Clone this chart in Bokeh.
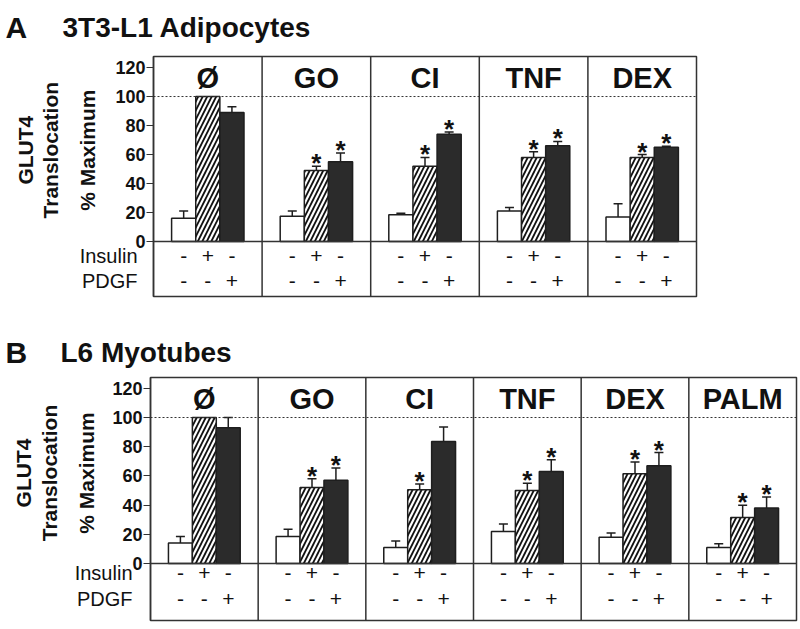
import math
from bokeh.plotting import figure
from bokeh.models import ColumnDataSource, Range1d, FixedTicker, Span, Whisker, TeeHead
from bokeh.core.properties import value
from bokeh.embed import file_html
from bokeh.resources import INLINE

# ---------------- data ----------------
A_title = "3T3-L1 Adipocytes"
A_groups = ["Ø", "GO", "CI", "TNF", "DEX"]
A_basal = [16, 17.5, 18.5, 21, 17]
A_basal_err = [5, 3.5, 1, 2.5, 9]
A_ins = [100, 49, 52, 58, 58]
A_ins_err = [0, 3, 6, 4, 2]
A_pdgf = [89, 55, 74, 66, 65]
A_pdgf_err = [4, 6, 1.5, 3, 0.7]
A_sig_ins = [False, True, True, True, True]
A_sig_pdgf = [False, True, True, True, True]

B_title = "L6 Myotubes"
B_groups = ["Ø", "GO", "CI", "TNF", "DEX", "PALM"]
B_basal = [14, 18.5, 11, 22, 18, 11]
B_basal_err = [4.5, 5, 4.5, 5, 3, 2.5]
B_ins = [100, 52, 50.5, 50, 61.5, 31.5]
B_ins_err = [0, 6, 4, 5, 8, 8.5]
B_pdgf = [93, 57, 83.5, 63, 67, 38]
B_pdgf_err = [7, 8.5, 10, 8, 9, 7.5]
B_sig_ins = [False, True, True, True, True, True]
B_sig_pdgf = [False, True, False, True, True, True]

insulin_signs = ["-", "+", "-"]
pdgf_signs = ["-", "-", "+"]
y_ticks = [0, 20, 40, 60, 80, 100, 120]
row_labels = ["Insulin", "PDGF"]
y_label_lines = ["GLUT4", "Translocation", "% Maximum"]

FONT = value("Liberation Sans")
PW = 4.5          # width of one sub-panel in data units
OFFS = [1.25, 2.25, 3.25]
DARK = "#2b2b2b"
LINE = "#1e1e1e"
TXT = "#111111"


def outside_text(p, x, y, text, xo, yo, size, bold=False, align="left",
                 baseline="alphabetic", angle=0.0):
    p.text(x=[x], y=[y], text=[text], x_offset=xo, y_offset=yo, angle=angle,
           text_font=FONT, text_font_style="bold" if bold else "normal",
           text_font_size=size, text_align=align, text_baseline=baseline,
           text_color=TXT, level="overlay")


def make_panel(letter, title, groups, series, sig_ins, sig_pdgf,
               width, height, bl, bt, br, bb, ystart, yend,
               title_yo, title_xo, ylab_offsets, ylab_y, row_y, row_xo):
    n = len(groups)
    p = figure(width=width, height=height, output_backend="svg",
               toolbar_location=None, x_axis_location=None,
               x_range=Range1d(0, PW * n), y_range=Range1d(ystart, yend),
               min_border_left=bl, min_border_top=bt,
               min_border_right=br, min_border_bottom=bb)
    p.title = None
    p.grid.visible = False
    p.outline_line_color = "#333333"
    p.outline_line_width = 1.5
    p.background_fill_color = "white"

    ax = p.yaxis[0]
    ax.ticker = FixedTicker(ticks=y_ticks)
    ax.major_label_text_font = "Liberation Sans"
    ax.major_label_text_font_style = "bold"
    ax.major_label_text_font_size = "18px"
    ax.major_label_text_color = TXT
    ax.major_tick_out = 7
    ax.major_tick_in = 0
    ax.minor_tick_out = 0
    ax.minor_tick_in = 0
    ax.major_label_standoff = 1
    ax.axis_line_color = "#333333"
    ax.axis_line_width = 1.5
    ax.major_tick_line_color = "#333333"
    ax.major_tick_line_width = 1.2

    # dividers, zero line and 100 % line
    for i in range(1, n):
        p.add_layout(Span(location=PW * i, dimension="height",
                          line_color="#333333", line_width=1.5))
    p.add_layout(Span(location=100, dimension="width", line_color="#333333",
                      line_width=1, line_dash="2 2"))
    p.add_layout(Span(location=0, dimension="width", line_color="#333333",
                      line_width=1.5))

    styles = [
        dict(fill_color="white"),
        dict(fill_color="white", hatch_pattern="/", hatch_color="#111111",
             hatch_scale=9, hatch_weight=1.8),
        dict(fill_color=DARK),
    ]
    sigs = [None, sig_ins, sig_pdgf]
    for k, (vals, errs) in enumerate(series):
        xs = [PW * i + OFFS[k] for i in range(n)]
        src = ColumnDataSource(dict(x=xs, top=vals))
        p.vbar(x="x", top="top", bottom=0, width=1, source=src,
               line_color=LINE, line_width=1.5, **styles[k])
        ex = [x for x, e in zip(xs, errs) if e > 0]
        ev = [v for v, e in zip(vals, errs) if e > 0]
        eu = [v + e for v, e in zip(vals, errs) if e > 0]
        wsrc = ColumnDataSource(dict(x=ex, lower=ev, upper=eu))
        p.add_layout(Whisker(source=wsrc, base="x", lower="lower", upper="upper",
                             dimension="height", line_color=LINE, line_width=1.5,
                             upper_head=TeeHead(size=9, line_color=LINE,
                                                line_width=1.5),
                             lower_head=None))
        if sigs[k] is not None:
            sx = [x for x, s in zip(xs, sigs[k]) if s]
            sy = [v + e for v, e, s in zip(vals, errs, sigs[k]) if s]
            p.text(x=sx, y=sy, text=["*"] * len(sx), y_offset=-3,
                   text_font=FONT, text_font_style="bold",
                   text_font_size="26px", text_align="center",
                   text_baseline="alphabetic", text_color=TXT)

    # group names
    gx = [PW * i + PW / 2 for i in range(n)]
    p.text(x=gx, y=[113] * n, text=groups, text_font=FONT,
           text_font_style="bold", text_font_size="29px", text_align="center",
           text_baseline="middle", text_color=TXT)

    # +/- rows
    sx, sy, st = [], [], []
    for i in range(n):
        for k in range(3):
            sx += [PW * i + OFFS[k], PW * i + OFFS[k]]
            sy += [row_y[0], row_y[1]]
            st += [insulin_signs[k], pdgf_signs[k]]
    p.text(x=sx, y=sy, text=st, text_font=FONT, text_font_size="21px",
           text_align="center", text_baseline="middle", text_color=TXT)

    # texts outside the frame (anchored on the frame edge, shifted in pixels)
    for lab, ry in zip(row_labels, row_y):
        outside_text(p, 0, ry, lab, row_xo, 0, "20px", align="right",
                     baseline="middle")
    for lab, off in zip(y_label_lines, ylab_offsets):
        outside_text(p, 0, ylab_y, lab, off, 0, "21px", bold=True,
                     align="center", baseline="middle", angle=math.pi / 2)
    outside_text(p, 0, yend, letter, title_xo[0], title_yo, "30px", bold=True)
    outside_text(p, 0, yend, title, title_xo[1], title_yo, "28px", bold=True)
    return p


pA = make_panel("A", A_title, A_groups,
                [(A_basal, A_basal_err), (A_ins, A_ins_err), (A_pdgf, A_pdgf_err)],
                A_sig_ins, A_sig_pdgf,
                width=800, height=300, bl=153, bt=56, br=104, bb=4,
                ystart=-37.9, yend=127.6, title_yo=-29, title_xo=(-148, -91),
                ylab_offsets=[-128, -103, -66], ylab_y=63,
                row_y=[-9.7, -26.9], row_xo=-16)

pB = make_panel("B", B_title, B_groups,
                [(B_basal, B_basal_err), (B_ins, B_ins_err), (B_pdgf, B_pdgf_err)],
                B_sig_ins, B_sig_pdgf,
                width=800, height=328, bl=150, bt=77, br=4, bb=8,
                ystart=-39.0, yend=127.4, title_yo=-25, title_xo=(-145, -90),
                ylab_offsets=[-127, -101, -64], ylab_y=62,
                row_y=[-6.8, -24.0], row_xo=-18)

open("out.html", "w").write(file_html([pA, pB], INLINE))
